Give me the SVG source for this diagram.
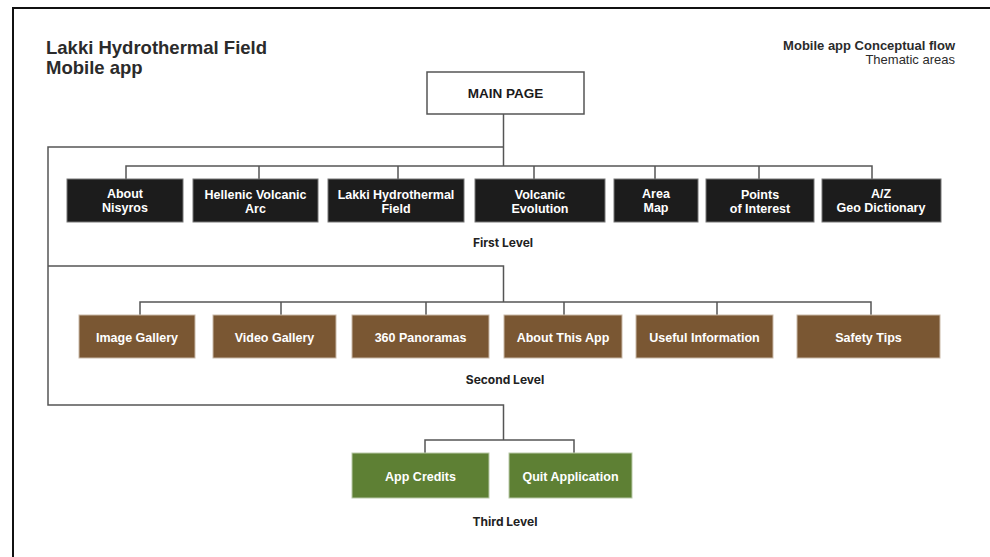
<svg xmlns="http://www.w3.org/2000/svg" width="990" height="557" viewBox="0 0 990 557">
<style>
.bg{fill:#ffffff}
.frame{fill:none;stroke:#111;stroke-width:2}
.title{font-family:"Liberation Sans",Arial,sans-serif;font-weight:700;font-size:18.5px;fill:#2b2b2b}
.hdr{font-family:"Liberation Sans",Arial,sans-serif;font-size:13px;fill:#2b2b2b;text-anchor:end}
.conn{fill:none;stroke:#555;stroke-width:1.5}
.main{fill:#fff;stroke:#555;stroke-width:1.5}
.l1{fill:#1c1c1c;stroke:#777;stroke-width:1}
.l2{fill:#7a5733;stroke:#c9b9a8;stroke-width:1}
.l3{fill:#5e8034;stroke:#b9c9a8;stroke-width:1}
.lbl{font-family:"Liberation Sans",Arial,sans-serif;font-weight:700;font-size:12.5px;fill:#fff;text-anchor:middle}
.mainlbl{font-family:"Liberation Sans",Arial,sans-serif;font-weight:700;font-size:13.5px;fill:#1a1a1a;text-anchor:middle}
.lvl{font-family:Inter,"Liberation Sans",sans-serif;font-weight:700;font-size:12px;fill:#222;text-anchor:middle}
</style>
<rect class="bg" x="0" y="0" width="990" height="557"/>
<path class="frame" d="M13,557 V8 H990"/>
<text class="title" x="46" y="54">Lakki Hydrothermal Field</text>
<text class="title" x="46" y="74">Mobile app</text>
<text class="hdr" x="955" y="50" font-weight="700">Mobile app Conceptual flow</text>
<text class="hdr" x="955" y="64">Thematic areas</text>

<g id="connectors">
<path class="conn" d="M503.5,114 V166"/>
<path class="conn" d="M503.5,147 H48 V405 H503.5 V440"/>
<path class="conn" d="M48,266 H503.5 V302"/>
<path class="conn" d="M126,179 V166 H872 V179"/>
<path class="conn" d="M259,166 V179 M398,166 V179 M534,166 V179 M655,166 V179 M759,166 V179"/>
<path class="conn" d="M140,315 V302 H871 V315"/>
<path class="conn" d="M281,302 V315 M426,302 V315 M564,302 V315 M717,302 V315"/>
<path class="conn" d="M425,453 V440 H574 V453"/>
</g>

<g id="main-page"><rect class="main" x="427" y="72" width="157" height="42"/><text class="mainlbl" x="505.5" y="98">MAIN PAGE</text></g>

<g id="about-nisyros"><rect class="l1" x="67" y="179" width="116" height="43"/><text class="lbl" x="125" y="197.5">About</text><text class="lbl" x="125" y="211.5">Nisyros</text></g>
<g id="hellenic-volcanic-arc"><rect class="l1" x="193" y="179" width="125" height="43"/><text class="lbl" x="255.5" y="198.5">Hellenic Volcanic</text><text class="lbl" x="255.5" y="212.5">Arc</text></g>
<g id="lakki-hydrothermal-field"><rect class="l1" x="328" y="179" width="136" height="43"/><text class="lbl" x="396" y="198.5">Lakki Hydrothermal</text><text class="lbl" x="396" y="212.5">Field</text></g>
<g id="volcanic-evolution"><rect class="l1" x="475" y="179" width="130" height="43"/><text class="lbl" x="540" y="198.5">Volcanic</text><text class="lbl" x="540" y="212.5">Evolution</text></g>
<g id="area-map"><rect class="l1" x="614" y="179" width="84" height="43"/><text class="lbl" x="656" y="197.5">Area</text><text class="lbl" x="656" y="211.5">Map</text></g>
<g id="points-of-interest"><rect class="l1" x="706" y="179" width="108" height="43"/><text class="lbl" x="760" y="198.5">Points</text><text class="lbl" x="760" y="212.5">of Interest</text></g>
<g id="geo-dictionary"><rect class="l1" x="822" y="179" width="119" height="43"/><text class="lbl" x="881" y="197.5">A/Z</text><text class="lbl" x="881" y="211.5">Geo Dictionary</text></g>
<text class="lvl" x="503" y="247">First Level</text>

<g id="image-gallery"><rect class="l2" x="79" y="315" width="116" height="43"/><text class="lbl" x="137" y="341.5">Image Gallery</text></g>
<g id="video-gallery"><rect class="l2" x="213" y="315" width="123" height="43"/><text class="lbl" x="274.5" y="341.5">Video Gallery</text></g>
<g id="panoramas"><rect class="l2" x="352" y="315" width="137" height="43"/><text class="lbl" x="420.5" y="341.5">360 Panoramas</text></g>
<g id="about-this-app"><rect class="l2" x="504" y="315" width="118" height="43"/><text class="lbl" x="563" y="341.5">About This App</text></g>
<g id="useful-information"><rect class="l2" x="636" y="315" width="137" height="43"/><text class="lbl" x="704.5" y="341.5">Useful Information</text></g>
<g id="safety-tips"><rect class="l2" x="797" y="315" width="143" height="43"/><text class="lbl" x="868.5" y="341.5">Safety Tips</text></g>
<text class="lvl" x="505" y="384">Second Level</text>

<g id="app-credits"><rect class="l3" x="352" y="453" width="137" height="45"/><text class="lbl" x="420.5" y="480.5">App Credits</text></g>
<g id="quit-application"><rect class="l3" x="509" y="453" width="123" height="45"/><text class="lbl" x="570.5" y="480.5">Quit Application</text></g>
<text class="lvl" x="505" y="526">Third Level</text>
</svg>
